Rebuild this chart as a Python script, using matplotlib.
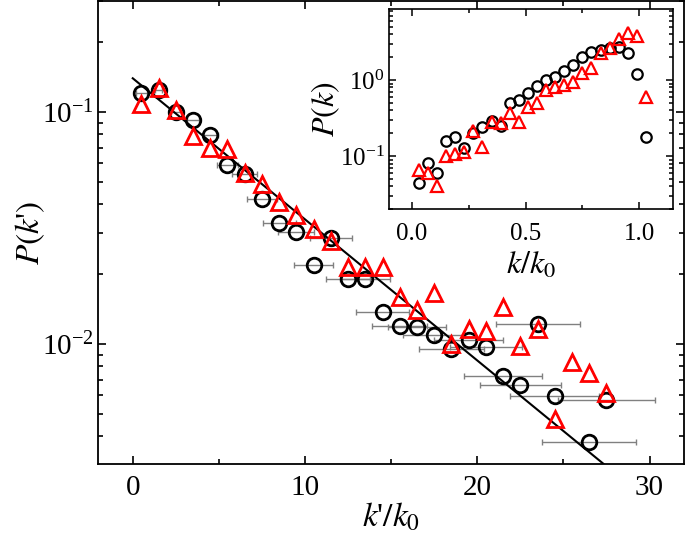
import numpy as np
import matplotlib.pyplot as plt
from matplotlib.ticker import MultipleLocator, LogLocator, NullFormatter

plt.rcParams['font.family'] = ['Liberation Serif', 'DejaVu Serif']
plt.rcParams['mathtext.fontset'] = 'stix'
plt.rcParams['axes.unicode_minus'] = False

# main panel: circles (with x error bars) and triangles
kc = [0.5, 1.5, 2.5, 3.5, 4.5, 5.5, 6.5, 7.5, 8.5, 9.5, 10.5, 11.5, 12.5, 13.5,
      14.5, 15.5, 16.5, 17.5, 18.5, 19.5, 20.5, 21.5, 22.5, 23.5, 24.5, 26.5, 27.5]
pc = [0.121, 0.124, 0.100, 0.0925, 0.0796, 0.0592, 0.0539, 0.0422, 0.0333, 0.0303,
      0.0219, 0.0286, 0.0190, 0.0190, 0.0137, 0.0119, 0.0118, 0.0109, 0.0095,
      0.01045, 0.00966, 0.00726, 0.00668, 0.01217, 0.00596, 0.00377, 0.00573]
kc_err = [0.33, 0.2, 0.3, 0.35, 0.45, 0.6, 0.72, 0.85, 0.95, 1.05, 1.12, 1.23, 1.3,
          1.45, 1.55, 1.6, 1.7, 1.8, 1.9, 2.0, 2.1, 2.26, 2.35, 2.44, 2.58, 2.73, 2.8]

kt = [0.5, 1.5, 2.5, 3.5, 4.5, 5.5, 6.5, 7.5, 8.5, 9.5, 10.5, 11.5, 12.5, 13.5,
      14.5, 15.5, 16.5, 17.5, 18.5, 19.5, 20.5, 21.5, 22.5, 23.5, 24.5, 25.5, 26.5, 27.5]
pt = [0.108, 0.127, 0.102, 0.0788, 0.0698, 0.0691, 0.0548, 0.0489, 0.0407, 0.0361,
      0.0313, 0.0277, 0.0214, 0.0214, 0.0214, 0.0159, 0.0140, 0.0165, 0.0100,
      0.0116, 0.01135, 0.0144, 0.0098, 0.0116, 0.00473, 0.00837, 0.0075, 0.00612]

# straight fit line (two end points)
fit_k = [0.0, 28.0]
fit_p = [0.1396, 0.00277]

# inset: P(k) vs k/k0
ki = [0.03, 0.07, 0.11, 0.15, 0.19, 0.23, 0.27, 0.31, 0.35, 0.39, 0.43, 0.47, 0.51,
      0.55, 0.59, 0.63, 0.67, 0.71, 0.75, 0.79, 0.83, 0.87, 0.91, 0.95, 0.99, 1.03]
pi_c = [0.0437, 0.0817, 0.0603, 0.159, 0.179, 0.129, 0.203, 0.243, 0.292, 0.248,
        0.493, 0.546, 0.668, 0.834, 1.0, 1.11, 1.33, 1.57, 1.99, 2.36, 2.48, 2.61,
        2.74, 2.24, 1.2, 0.179]
pi_t = [0.066, 0.060, 0.040, 0.100, 0.108, 0.114, 0.213, 0.133, 0.283, 0.269,
        0.364, 0.283, 0.446, 0.503, 0.738, 0.80, 0.86, 0.95, 1.25, 1.43, 2.29, 2.66,
        3.43, 4.11, 3.83, 0.60]

fig = plt.figure(figsize=(6.85, 5.41), dpi=100)
ax = fig.add_axes([0.1435, 0.1418, 0.855, 0.856])

ax.errorbar(kc, pc, xerr=kc_err, fmt='none', ecolor='gray', elinewidth=1,
            capsize=2.5, capthick=1, zorder=1)
ax.plot(fit_k, fit_p, 'k-', linewidth=1.5, zorder=2)
ax.plot(kc, pc, 'o', markersize=10.5, markerfacecolor='none',
        markeredgecolor='black', markeredgewidth=2, zorder=3)
ax.plot(kt, pt, '^', markersize=11, markerfacecolor='none',
        markeredgecolor='red', markeredgewidth=2, zorder=4)

ax.set_yscale('log')
ax.set_xlim(-2, 32)
ax.set_ylim(0.00303, 0.30)
ax.xaxis.set_major_locator(MultipleLocator(10))
ax.xaxis.set_minor_locator(MultipleLocator(5))
ax.yaxis.set_major_locator(LogLocator(base=10, numticks=10))
ax.yaxis.set_minor_locator(LogLocator(base=10, subs=np.arange(2, 10), numticks=10))
ax.yaxis.set_minor_formatter(NullFormatter())
ax.tick_params(which='both', direction='in', top=True, right=True, labelsize=21,
               width=1.2)
ax.tick_params(which='major', length=6)
ax.tick_params(which='minor', length=3.5)
ax.tick_params(axis='x', pad=8)
for s in ax.spines.values():
    s.set_linewidth(1.3)

ax.set_xlabel(r"$k$'$/k_0$", fontsize=24, labelpad=0)
ax.set_ylabel(r"$P(k$'$)$", fontsize=24, labelpad=-4)

# inset
axi = fig.add_axes([0.5683, 0.6131, 0.4146, 0.3703])
axi.plot(ki, pi_c, 'o', markersize=7.5, markerfacecolor='none',
         markeredgecolor='black', markeredgewidth=1.6)
axi.plot(ki, pi_t, '^', markersize=8.5, markerfacecolor='none',
         markeredgecolor='red', markeredgewidth=1.6)
axi.set_yscale('log')
axi.set_xlim(-0.1, 1.15)
axi.set_ylim(0.02, 8.6)
axi.xaxis.set_major_locator(MultipleLocator(0.5))
axi.xaxis.set_minor_locator(MultipleLocator(0.25))
axi.yaxis.set_minor_locator(LogLocator(base=10, subs=np.arange(2, 10), numticks=10))
axi.yaxis.set_minor_formatter(NullFormatter())
axi.tick_params(which='both', direction='in', top=True, right=True, labelsize=18,
                width=1.1)
axi.tick_params(which='major', length=5)
axi.tick_params(which='minor', length=3)
axi.tick_params(axis='x', pad=10)
for s in axi.spines.values():
    s.set_linewidth(1.2)
axi.set_xlabel(r"$k/k_0$", fontsize=23, labelpad=4)
axi.set_ylabel(r"$P(k)$", fontsize=23, labelpad=-2)

plt.savefig('out.png', dpi=100)
